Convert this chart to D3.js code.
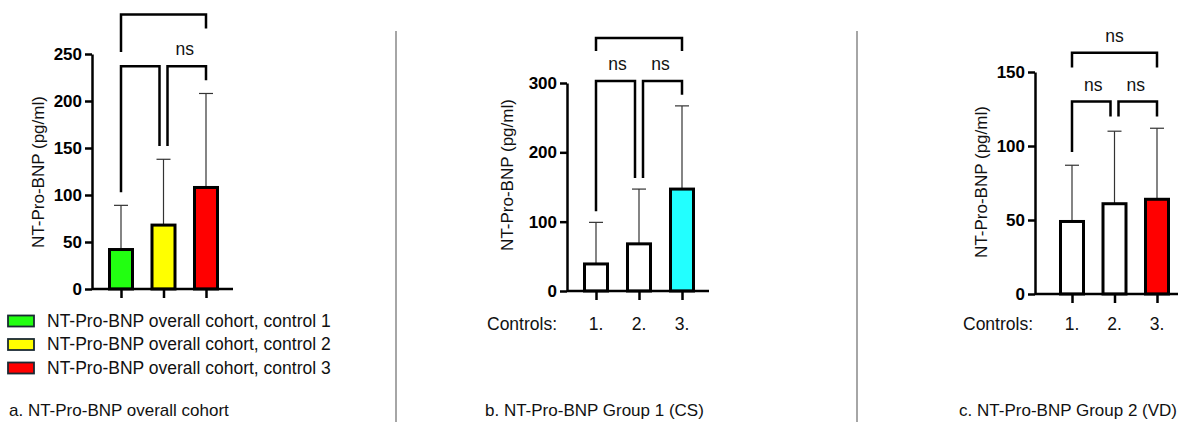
<!DOCTYPE html>
<html>
<head>
<meta charset="utf-8">
<script src="https://cdn.jsdelivr.net/npm/d3@7"></script>
<style>
  body { margin: 0; background: #fff; }
  svg { display: block; font-family: "Liberation Sans", Arial, sans-serif; }
</style>
</head>
<body>
<svg id="chart" width="1178" height="422"></svg>
<script>
// --- data ---
const controls = ["1.", "2.", "3."];

const meanA = [42, 68, 108];
const sdA = [89, 138, 208];
const fillA = ["#22ff11", "#ffff00", "#ff0000"];
const ticksA = [0, 50, 100, 150, 200, 250];

const meanB = [39, 68, 147];
const sdB = [99, 147, 267];
const fillB = ["#ffffff", "#ffffff", "#22ffff"];
const ticksB = [0, 100, 200, 300];

const meanC = [49, 61, 64];
const sdC = [87, 110, 112];
const fillC = ["#ffffff", "#ffffff", "#ff0000"];
const ticksC = [0, 50, 100, 150];

// brackets: [from, to, level, left leg end, right leg end, label]  (data units)
const bracketsA = [
  [0, 2, 292, 252, 277, ""],
  [0, 1, 237, 103, 152, ""],
  [1, 2, 237, 152, 222, "ns"]
];
const bracketsB = [
  [0, 2, 365, 346, 346, ""],
  [0, 1, 303, 115, 163, "ns"],
  [1, 2, 303, 163, 283, "ns"]
];
const bracketsC = [
  [0, 2, 163, 153, 153, "ns"],
  [0, 1, 130, 96, 120, "ns"],
  [1, 2, 130, 120, 120, "ns"]
];

const legendLabels = [
  "NT-Pro-BNP overall cohort, control 1",
  "NT-Pro-BNP overall cohort, control 2",
  "NT-Pro-BNP overall cohort, control 3"
];
const captions = [
  "a. NT-Pro-BNP overall cohort",
  "b. NT-Pro-BNP Group 1 (CS)",
  "c. NT-Pro-BNP Group 2 (VD)"
];
const yTitle = "NT-Pro-BNP (pg/ml)";

// --- layout per panel ---
const panels = [
  { mean: meanA, sd: sdA, fill: fillA, ticks: ticksA, brackets: bracketsA,
    axisX: 92, axisEnd: 233, x0: 121, x1: 206, y0: 289, yTop: 54, max: 250,
    titleX: 40, titleY: 172, controls: false },
  { mean: meanB, sd: sdB, fill: fillB, ticks: ticksB, brackets: bracketsB,
    axisX: 567, axisEnd: 709, x0: 596, x1: 682, y0: 291, yTop: 83, max: 300,
    titleX: 509, titleY: 175, controls: true, controlsX: 487 },
  { mean: meanC, sd: sdC, fill: fillC, ticks: ticksC, brackets: bracketsC,
    axisX: 1035, axisEnd: 1180, x0: 1072, x1: 1157, y0: 294, yTop: 72, max: 150,
    titleX: 983, titleY: 182, controls: true, controlsX: 963 }
];

const svg = d3.select("#chart");
const barW = 26;
const fs = 17.5;

panels.forEach(p => {
  const x = d3.scalePoint().domain(controls).range([p.x0, p.x1]);
  const y = d3.scaleLinear().domain([0, p.max]).range([p.y0, p.yTop]);
  const g = svg.append("g");

  // error bars (upper only)
  const err = g.selectAll(".err").data(controls).join("g");
  err.append("line")
    .attr("x1", d => x(d)).attr("x2", d => x(d))
    .attr("y1", (d, i) => y(p.mean[i])).attr("y2", (d, i) => y(p.sd[i]))
    .attr("stroke", "#333").attr("stroke-width", 1.2);
  err.append("line")
    .attr("x1", d => x(d) - 7).attr("x2", d => x(d) + 7)
    .attr("y1", (d, i) => y(p.sd[i])).attr("y2", (d, i) => y(p.sd[i]))
    .attr("stroke", "#333").attr("stroke-width", 1.2);

  // bars
  g.selectAll(".bar").data(controls).join("rect")
    .attr("x", d => x(d) - barW / 2 + 1.5)
    .attr("width", barW - 3)
    .attr("y", (d, i) => y(p.mean[i]))
    .attr("height", (d, i) => y(0) - y(p.mean[i]))
    .attr("fill", (d, i) => p.fill[i])
    .attr("stroke", "#000").attr("stroke-width", 3);

  // y axis
  const ya = g.append("g").attr("transform", `translate(${p.axisX},0)`)
    .call(d3.axisLeft(y).tickValues(p.ticks).tickSize(7).tickSizeOuter(0).tickPadding(3));
  ya.select(".domain").attr("stroke", "#000").attr("stroke-width", 2.5);
  ya.selectAll(".tick line").attr("stroke", "#000").attr("stroke-width", 2.5);
  ya.selectAll(".tick text").attr("font-size", 17).attr("font-weight", "bold")
    .attr("fill", "#000").attr("font-family", "Liberation Sans, Arial, sans-serif");

  // x axis
  const xa = g.append("g").attr("transform", `translate(0,${p.y0})`)
    .call(d3.axisBottom(x).tickSize(9).tickSizeOuter(0).tickFormat(""));
  xa.select(".domain").attr("d", `M${p.axisX},0H${p.axisEnd}`)
    .attr("stroke", "#000").attr("stroke-width", 2.5);
  xa.selectAll(".tick line").attr("stroke", "#000").attr("stroke-width", 2.5);

  // y title
  g.append("text")
    .attr("transform", `translate(${p.titleX},${p.titleY}) rotate(-90)`)
    .attr("text-anchor", "middle").attr("dominant-baseline", "middle")
    .attr("font-size", 17).attr("fill", "#111")
    .text(yTitle);

  // controls row
  if (p.controls) {
    g.append("text").attr("x", p.controlsX).attr("y", 330)
      .attr("font-size", fs).attr("fill", "#111").text("Controls:");
    g.selectAll(".ctl").data(controls).join("text")
      .attr("x", d => x(d)).attr("y", 330).attr("text-anchor", "middle")
      .attr("font-size", fs).attr("fill", "#111").text(d => d);
  }

  // significance brackets
  const br = g.selectAll(".br").data(p.brackets).join("g");
  br.append("path")
    .attr("d", b => {
      const xl = x(controls[b[0]]) + (b[0] === 1 ? 4 : 0);
      const xr = x(controls[b[1]]) - (b[1] === 1 ? 4 : 0);
      return `M${xl},${y(b[3])}V${y(b[2])}H${xr}V${y(b[4])}`;
    })
    .attr("fill", "none").attr("stroke", "#000").attr("stroke-width", 2.5);
  br.append("text")
    .attr("x", b => (x(controls[b[0]]) + x(controls[b[1]])) / 2)
    .attr("y", b => y(b[2]) - 11)
    .attr("text-anchor", "middle").attr("font-size", fs).attr("fill", "#111")
    .text(b => b[5]);
});

// legend for panel a
const leg = svg.append("g").selectAll("g").data(legendLabels).join("g")
  .attr("transform", (d, i) => `translate(0,${321 + i * 23.5})`);
leg.append("rect").attr("x", 8).attr("y", -5.5).attr("width", 26).attr("height", 11)
  .attr("fill", (d, i) => fillA[i]).attr("stroke", "#1a2a33").attr("stroke-width", 1.8);
leg.append("text").attr("x", 47).attr("y", 1).attr("dominant-baseline", "middle")
  .attr("font-size", fs).attr("fill", "#111").text(d => d);

// panel separators
svg.selectAll(".sep").data([396, 857]).join("line")
  .attr("x1", d => d).attr("x2", d => d).attr("y1", 31).attr("y2", 422)
  .attr("stroke", "#a6a6a6").attr("stroke-width", 2);

// captions
svg.append("text").attr("x", 9).attr("y", 416).attr("font-size", 17).attr("fill", "#111")
  .text(captions[0]);
svg.append("text").attr("x", 485).attr("y", 416)
  .attr("font-size", 17).attr("fill", "#111").text(captions[1]);
svg.append("text").attr("x", 1177).attr("y", 416)
  .attr("text-anchor", "end").attr("font-size", 17).attr("fill", "#111").text(captions[2]);
</script>
</body>
</html>
